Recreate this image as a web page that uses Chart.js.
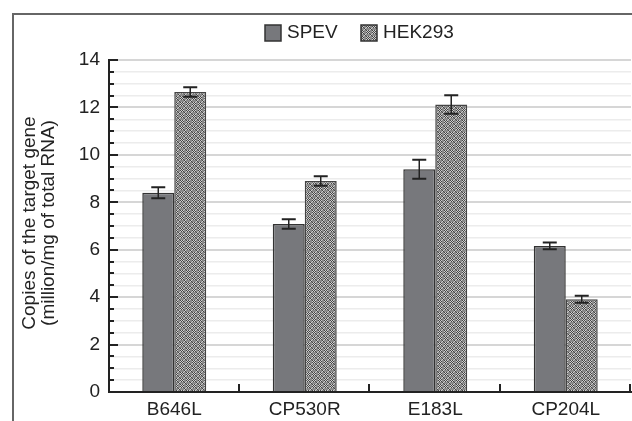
<!DOCTYPE html>
<html>
<head>
<meta charset="utf-8">
<script src="https://cdn.jsdelivr.net/npm/chart.js@4.4.1/dist/chart.umd.min.js"></script>
<style>
html,body{margin:0;padding:0;background:#fff;}
#wrap{width:632px;height:421px;position:relative;}
</style>
</head>
<body>
<div id="wrap"><canvas id="c" width="632" height="421"></canvas></div>
<script>
const categories = ['B646L', 'CP530R', 'E183L', 'CP204L'];
const seriesNames = ['SPEV', 'HEK293'];
const spevValues = [8.4, 7.08, 9.39, 6.16];
const spevErrors = [0.23, 0.2, 0.4, 0.14];
const hekValues = [12.65, 8.9, 12.12, 3.91];
const hekErrors = [0.2, 0.2, 0.39, 0.15];
const yTickLabels = ['0', '2', '4', '6', '8', '10', '12', '14'];
const yAxisTitle = ['Copies of the target gene', '(million/mg of total RNA)'];

const FONT = '"Liberation Sans", Arial, sans-serif';

function makePattern() {
  const p = document.createElement('canvas');
  p.width = 6; p.height = 6;
  const g = p.getContext('2d');
  const D = '#454545', L = '#cfcfcf', M = '#8a8a8a';
  const map = [
    [D, L, D, L, M, M],
    [L, D, L, D, M, M],
    [D, L, D, L, M, M],
    [L, D, L, D, M, M],
    [M, M, M, M, D, L],
    [M, M, M, M, L, D]
  ];
  for (let y = 0; y < 6; y++) for (let x = 0; x < 6; x++) {
    g.fillStyle = map[y][x];
    g.fillRect(x, y, 1, 1);
  }
  return document.getElementById('c').getContext('2d').createPattern(p, 'repeat');
}
const hekPattern = makePattern();
const spevFill = '#77787c';

const errorData = [spevErrors, hekErrors];

const decorPlugin = {
  id: 'decor',
  beforeDraw(chart) {
    const ctx = chart.ctx;
    ctx.save();
    ctx.fillStyle = '#fff';
    ctx.fillRect(0, 0, chart.width, chart.height);
    ctx.strokeStyle = '#666';
    ctx.lineWidth = 2;
    ctx.beginPath();
    ctx.moveTo(13, 421);
    ctx.lineTo(13, 14);
    ctx.lineTo(632, 14);
    ctx.stroke();
    ctx.restore();
  },
  afterDatasetsDraw(chart) {
    const ctx = chart.ctx;
    const y = chart.scales.y;
    const ca = chart.chartArea;
    ctx.save();
    // error bars
    ctx.strokeStyle = '#222';
    chart.data.datasets.forEach((ds, di) => {
      const meta = chart.getDatasetMeta(di);
      meta.data.forEach((bar, i) => {
        const v = ds.data[i], e = errorData[di][i];
        const yt = y.getPixelForValue(v + e);
        const yb = y.getPixelForValue(v - e);
        const cx = bar.x;
        ctx.lineWidth = 1.5;
        ctx.beginPath();
        ctx.moveTo(cx, yt); ctx.lineTo(cx, yb);
        ctx.stroke();
        ctx.lineWidth = 2;
        ctx.beginPath();
        ctx.moveTo(cx - 7, yt); ctx.lineTo(cx + 7, yt);
        ctx.moveTo(cx - 7, yb); ctx.lineTo(cx + 7, yb);
        ctx.stroke();
      });
    });
    // y ticks (inward)
    ctx.strokeStyle = '#222';
    ctx.lineWidth = 2;
    for (let v = 0; v <= 14.001; v += 0.5) {
      const py = Math.round(y.getPixelForValue(v));
      const major = Math.abs(v - Math.round(v / 2) * 2) < 1e-6;
      ctx.beginPath();
      ctx.moveTo(ca.left, py);
      ctx.lineTo(ca.left + (major ? 9 : 5), py);
      ctx.stroke();
    }
    // x boundary ticks (inward)
    const n = categories.length;
    const step = (ca.right - ca.left) / n;
    for (let i = 1; i <= n; i++) {
      const px = Math.round(ca.left + step * i) - 1;
      ctx.beginPath();
      ctx.moveTo(px, ca.bottom);
      ctx.lineTo(px, ca.bottom - 8);
      ctx.stroke();
    }
    // axis title
    ctx.fillStyle = '#222';
    ctx.font = '19px ' + FONT;
    ctx.textAlign = 'center';
    ctx.textBaseline = 'middle';
    const cy = (ca.top + ca.bottom) / 2 - 3;
    [30, 49].forEach((tx, k) => {
      ctx.save();
      ctx.translate(tx, cy);
      ctx.rotate(-Math.PI / 2);
      ctx.fillText(yAxisTitle[k], 0, 0);
      ctx.restore();
    });
    // legend
    ctx.font = '19px ' + FONT;
    ctx.textAlign = 'left';
    const items = [[265, spevFill, seriesNames[0]], [361, hekPattern, seriesNames[1]]];
    items.forEach(([lx, fill, name]) => {
      ctx.fillStyle = fill;
      ctx.fillRect(lx, 25, 16, 16);
      ctx.strokeStyle = '#333';
      ctx.lineWidth = 1.5;
      ctx.strokeRect(lx, 25, 16, 16);
      ctx.fillStyle = '#222';
      ctx.fillText(name, lx + 22, 33);
    });
    ctx.restore();
  }
};

new Chart(document.getElementById('c'), {
  type: 'bar',
  data: {
    labels: categories,
    datasets: [
      { label: seriesNames[0], data: spevValues, backgroundColor: spevFill, borderColor: '#333', borderWidth: 1.5, categoryPercentage: 0.49, barPercentage: 1.0 },
      { label: seriesNames[1], data: hekValues, backgroundColor: hekPattern, borderColor: '#444', borderWidth: 1.5, categoryPercentage: 0.49, barPercentage: 1.0 }
    ]
  },
  options: {
    responsive: false,
    animation: false,
    devicePixelRatio: 1,
    layout: { padding: { top: 60, right: 1, bottom: 0, left: 0 } },
    plugins: { legend: { display: false }, tooltip: { enabled: false } },
    scales: {
      x: {
        grid: { display: false, drawTicks: false },
        border: { color: '#222', width: 2 },
        ticks: { color: '#222', font: { family: FONT, size: 19 }, padding: 6 },
        afterFit(s) { s.height = 29; }
      },
      y: {
        min: 0, max: 14,
        grid: {
          drawTicks: false,
          color: (c) => (Math.abs(c.tick.value % 2) < 1e-6 ? '#d6d6d6' : '#ececec'),
          lineWidth: (c) => (Math.abs(c.tick.value % 2) < 1e-6 ? 2 : 1.5)
        },
        border: { color: '#222', width: 2 },
        ticks: {
          stepSize: 0.5,
          autoSkip: false,
          color: '#222',
          font: { family: FONT, size: 19 },
          padding: 9,
          callback: (v) => {
            const idx = yTickLabels.indexOf(String(v));
            return idx >= 0 ? yTickLabels[idx] : '';
          }
        },
        afterFit(s) { s.width = 109; }
      }
    }
  },
  plugins: [decorPlugin]
});
</script>
</body>
</html>
